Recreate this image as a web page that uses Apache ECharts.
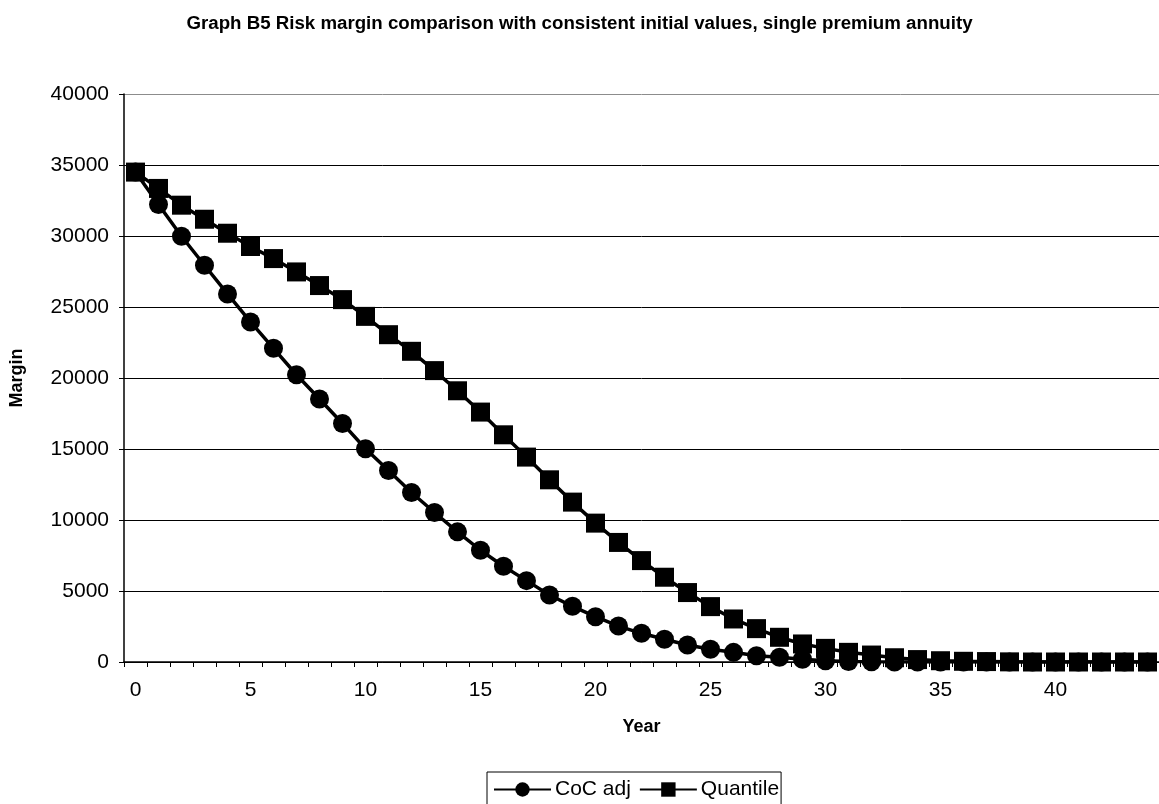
<!DOCTYPE html>
<html>
<head>
<meta charset="utf-8">
<title>Risk margin comparison</title>
<script src="https://cdn.jsdelivr.net/npm/echarts@6/dist/echarts.min.js"></script>
<style>
  html, body { margin: 0; padding: 0; background: #fff; }
  #chart { width: 1159px; height: 804px; }
</style>
</head>
<body>
<div id="chart"></div>
<script>
// Projection years shown on the horizontal axis
const years = [];
for (let y = 0; y <= 44; y++) years.push(String(y));

// Risk margin by year, cost-of-capital method (adjusted)
const cocAdj = [
  34500, 32220, 29980, 27940, 25920, 23950, 22090, 20230, 18520, 16800,
  15020, 13490, 11940, 10530, 9165, 7870, 6740, 5730, 4720, 3920,
  3190, 2530, 2020, 1600, 1200, 900, 680, 440, 330, 190,
  90, 30, 10, 0, 0, 0, 0, 0, 0, 0,
  0, 0, 0, 0, 0
];

// Risk margin by year, quantile method
const quantile = [
  34500, 33350, 32170, 31180, 30195, 29260, 28410, 27470, 26510, 25520,
  24340, 23050, 21880, 20520, 19100, 17600, 16000, 14430, 12830, 11260,
  9780, 8420, 7140, 5970, 4890, 3900, 3030, 2350, 1740, 1270,
  960, 680, 490, 300, 170, 90, 50, 30, 10, 0,
  0, 0, 0, 0, 0
];

// Value axis ticks: 0 to 40000 in steps of 5000
const yTicks = [0, 5000, 10000, 15000, 20000, 25000, 30000, 35000, 40000];

const FONT = '"Liberation Sans", Arial, Helvetica, sans-serif';

// top border of the plot area is lighter than the inner grid lines
const gridColors = yTicks.map((v, i) => (i === yTicks.length - 1 ? '#8c8c8c' : '#000000'));

const chart = echarts.init(document.getElementById('chart'), null, { renderer: 'canvas' });

chart.setOption({
  animation: false,
  backgroundColor: '#ffffff',
  textStyle: { fontFamily: FONT, color: '#000' },
  title: {
    text: 'Graph B5 Risk margin comparison with consistent initial values, single premium annuity',
    left: 'center',
    top: 9,
    textStyle: { fontFamily: FONT, fontSize: 18.7, fontWeight: 'bold', color: '#000' }
  },
  grid: { left: 118, right: 0, top: 94, bottom: 142, containLabel: false },
  legend: {
    data: ['CoC adj', 'Quantile'],
    left: 487,
    top: 772,
    orient: 'horizontal',
    padding: [7, 2, 7, 6],
    itemGap: 8,
    itemWidth: 57,
    itemHeight: 18,
    borderColor: '#000',
    borderWidth: 1,
    borderRadius: 0,
    textStyle: { fontFamily: FONT, fontSize: 21, color: '#000', padding: [0, 0, 0, -1] }
  },
  xAxis: {
    type: 'category',
    data: years,
    boundaryGap: true,
    name: 'Year',
    nameLocation: 'middle',
    nameGap: 56,
    nameTextStyle: { fontFamily: FONT, fontSize: 18, fontWeight: 'bold', color: '#000' },
    axisLine: { show: true, lineStyle: { color: '#000', width: 1.5 } },
    axisTick: { show: true, interval: 0, alignWithLabel: false, length: 5, inside: false, lineStyle: { color: '#000', width: 1 } },
    axisLabel: { interval: 4, fontFamily: FONT, fontSize: 21, color: '#000', margin: 18 },
    splitLine: { show: false }
  },
  yAxis: {
    type: 'value',
    min: 0,
    max: 40000,
    interval: 5000,
    name: 'Margin',
    nameLocation: 'middle',
    nameGap: 98,
    nameRotate: 90,
    nameTextStyle: { fontFamily: FONT, fontSize: 18, fontWeight: 'bold', color: '#000' },
    axisLine: { show: true, lineStyle: { color: '#000', width: 1.5 } },
    axisTick: { show: true, length: 5, inside: false, lineStyle: { color: '#000', width: 1 } },
    axisLabel: {
      fontFamily: FONT, fontSize: 21, color: '#000', margin: 15,
      formatter: (v) => String(v)
    },
    splitLine: { show: true, lineStyle: { color: gridColors, width: 1 } }
  },
  series: [
    {
      name: 'CoC adj',
      type: 'line',
      data: cocAdj,
      symbol: 'circle',
      symbolSize: 19,
      showAllSymbol: true,
      lineStyle: { color: '#000', width: 3.5 },
      itemStyle: { color: '#000', borderColor: '#000', borderWidth: 0 }
    },
    {
      name: 'Quantile',
      type: 'line',
      data: quantile,
      symbol: 'rect',
      symbolSize: 19,
      showAllSymbol: true,
      lineStyle: { color: '#000', width: 3.5 },
      itemStyle: { color: '#000', borderColor: '#000', borderWidth: 0 }
    }
  ]
});
</script>
</body>
</html>
